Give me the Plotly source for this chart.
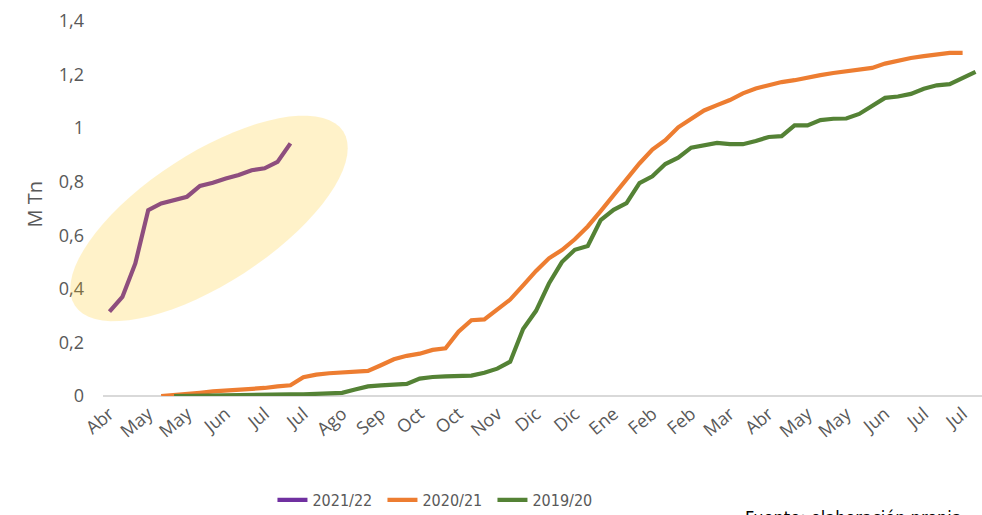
import math
import plotly.graph_objects as go

# ---------------- data ----------------
tick_labels = ["Abr", "May", "May", "Jun", "Jul", "Jul", "Ago", "Sep", "Oct", "Oct",
               "Nov", "Dic", "Dic", "Ene", "Feb", "Feb", "Mar", "Abr", "May", "May",
               "Jun", "Jul", "Jul"]
n_weeks = 68  # weekly categories on the axis

s2122_start = 0
s2122 = [0.315, 0.37, 0.495, 0.694, 0.719, 0.731, 0.744, 0.784, 0.796, 0.812,
         0.825, 0.843, 0.85, 0.874, 0.943]

s2021_start = 4
s2021 = [0.0, 0.003, 0.006, 0.012, 0.017, 0.02, 0.023, 0.026, 0.03, 0.036,
         0.04, 0.07, 0.08, 0.085, 0.088, 0.089, 0.094, 0.115, 0.137, 0.15,
         0.158, 0.172, 0.178, 0.24, 0.283, 0.286, 0.322, 0.36, 0.413, 0.467,
         0.514, 0.545, 0.585, 0.633, 0.69, 0.75, 0.81, 0.868, 0.92, 0.955,
         1.003, 1.035, 1.066, 1.086, 1.105, 1.13, 1.148, 1.16, 1.172, 1.179,
         1.19, 1.198, 1.206, 1.213, 1.22, 1.225, 1.241, 1.253, 1.262, 1.269,
         1.276, 1.281, 1.281]

s1920_start = 5
s1920 = [0.0, 0.001, 0.002, 0.003, 0.003, 0.004, 0.004, 0.005, 0.005, 0.006,
         0.006, 0.008, 0.01, 0.012, 0.024, 0.036, 0.04, 0.043, 0.045, 0.065,
         0.071, 0.073, 0.075, 0.076, 0.087, 0.102, 0.128, 0.25, 0.318, 0.42,
         0.5, 0.546, 0.56, 0.657, 0.695, 0.72, 0.795, 0.82, 0.866, 0.89,
         0.927, 0.937, 0.945, 0.94, 0.94, 0.952, 0.967, 0.97, 1.01, 1.01,
         1.03, 1.035, 1.036, 1.053, 1.085, 1.113, 1.118, 1.128, 1.147, 1.16,
         1.164, 1.188, 1.21]

series = [
    ("2021/22", s2122_start, s2122, "#7030A0"),
    ("2020/21", s2021_start, s2021, "#ED7D31"),
    ("2019/20", s1920_start, s1920, "#548235"),
]

# ---------------- layout geometry ----------------
W, H = 982, 515
ml, mr, mt, mb = 102.5, 0.3, 21, 119
pw, ph = W - ml - mr, H - mt - mb
x_range = [-0.5, n_weeks - 0.5]
y_range = [0, 1.4]

fig = go.Figure()
for name, start, vals, color in series:
    fig.add_trace(go.Scatter(
        x=list(range(start, start + len(vals))), y=vals, name=name,
        mode="lines", line=dict(color=color, width=4.2),
    ))

# highlight ellipse (rotated), built in paper coordinates
cx_d, cy_d = 7.7, 0.663
a_px, b_px, ang = 160, 65, math.radians(33)
cx_p = (cx_d - x_range[0]) / (x_range[1] - x_range[0])
cy_p = (cy_d - y_range[0]) / (y_range[1] - y_range[0])
pts = []
for i in range(73):
    t = 2 * math.pi * i / 72
    dx = a_px * math.cos(t) * math.cos(ang) - b_px * math.sin(t) * math.sin(ang)
    dy = a_px * math.cos(t) * math.sin(ang) + b_px * math.sin(t) * math.cos(ang)
    pts.append((cx_p + dx / pw, cy_p + dy / ph))
path = "M " + " L ".join(f"{x:.5f},{y:.5f}" for x, y in pts) + " Z"
fig.add_shape(type="path", path=path, xref="paper", yref="paper",
              fillcolor="rgba(255,192,0,0.21)", line=dict(width=0), layer="above")

sans = "Open Sans, Noto Sans, sans-serif"
narrow = "Liberation Sans Narrow, DejaVu Sans Condensed, sans-serif"

fig.update_layout(
    width=W, height=H,
    margin=dict(l=ml, r=mr, t=mt, b=mb, autoexpand=False),
    paper_bgcolor="white", plot_bgcolor="white",
    separators=",.",
    showlegend=True,
    legend=dict(orientation="h", x=(272 - ml) / pw, xanchor="left",
                y=(396 - 500) / ph, yanchor="middle",
                font=dict(family=narrow, size=16, color="#595959"),
                itemwidth=30, entrywidth=65, tracegroupgap=0,
                bgcolor="rgba(0,0,0,0)"),
    xaxis=dict(range=x_range, tickmode="array",
               tickvals=list(range(0, n_weeks, 3))[:len(tick_labels)],
               ticktext=tick_labels, tickangle=-40, ticks="",
               tickfont=dict(family=sans, size=18, color="#595959"),
               showgrid=False, zeroline=False,
               showline=False, ticklabelstandoff=3, automargin=False),
    yaxis=dict(range=y_range, tickmode="array",
               tickvals=[0, 0.2, 0.4, 0.6, 0.8, 1.0, 1.2, 1.4],
               ticks="", tickfont=dict(family=sans, size=18, color="#595959"),
               showgrid=False, zeroline=True, zerolinecolor="#D9D9D9",
               zerolinewidth=2, showline=False, ticklabelstandoff=18,
               automargin=False),
    annotations=[
        dict(text="M Tn", xref="paper", yref="paper", x=(33 - ml) / pw,
             y=(396 - 205) / ph, textangle=-90, showarrow=False,
             xanchor="center", yanchor="middle",
             font=dict(family=sans, size=20, color="#595959")),
        dict(text="Fuente: elaboración propia", xref="paper", yref="paper",
             x=(743 - ml) / pw, y=(396 - 505) / ph, xanchor="left", yanchor="top",
             showarrow=False,
             font=dict(family=narrow, size=18, color="#000000")),
    ],
)

fig.write_html("out.html", config={"displayModeBar": False},
               post_script="document.body.style.margin='0';")
